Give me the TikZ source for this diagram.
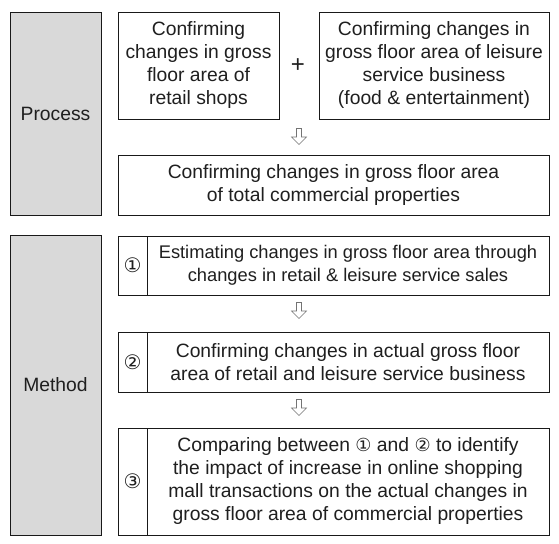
\documentclass[tikz,border=0pt]{standalone}
\usepackage{fontspec}
\setmainfont{Liberation Sans}
\newfontfamily\circfont{DejaVu Sans}
\begin{document}
\begin{tikzpicture}[x=1pt,y=-1pt,
  txt/.style={text=black!88, font=\fontsize{19.3}{23}\selectfont, align=center, inner sep=0pt},
  box/.style={txt, draw=black!90, line width=0.9pt},
  side/.style={box, fill=black!15},
  numcell/.style={box, font=\circfont\fontsize{20}{22}\selectfont},
  harrow/.pic={\draw[black!55, line width=0.6pt, fill=white]
     (-2.5,-8.5) -- (2.5,-8.5) -- (2.5,0) -- (7.5,0) -- (0,7.5) -- (-7.5,0) -- (-2.5,0) -- cycle;}
]
\useasboundingbox (0,0) rectangle (559,543);
\fill[white] (0,0) rectangle (559,543);
% Process section
\node[side, minimum width=91pt, minimum height=203pt] (process) at (55.5,113.5) {Process};
\node[box, minimum width=161pt, minimum height=107pt] (retail) at (198.5,65.5)
  {Confirming\\changes in gross\\floor area of\\retail shops};
\node[txt, font=\fontsize{24}{24}\selectfont] (plus) at (298,66) {+};
\node[box, minimum width=230pt, minimum height=107pt] (leisure) at (434,65.5)
  {Confirming changes in\\gross floor area of leisure\\service business\\(food \& entertainment)};
\node[box, minimum width=431pt, minimum height=60pt] (total) at (333.5,185)
  {Confirming changes in gross floor area\\of total commercial properties};
\pic at (299,137) {harrow};
% Method section
\node[side, minimum width=91pt, minimum height=300pt] (method) at (55.5,385) {Method};
\node[numcell, minimum width=29pt, minimum height=59pt] (n1) at (132.5,265.5) {①};
\node[box, minimum width=402pt, minimum height=59pt, font=\fontsize{18.3}{23}\selectfont] (m1) at (348,265.5)
  {Estimating changes in gross floor area through\\changes in retail \& leisure service sales};
\pic at (299,311) {harrow};
\node[numcell, minimum width=29pt, minimum height=60pt] (n2) at (132.5,362) {②};
\node[box, minimum width=402pt, minimum height=60pt] (m2) at (348,362)
  {Confirming changes in actual gross floor\\area of retail and leisure service business};
\pic at (299,408) {harrow};
\node[numcell, minimum width=29pt, minimum height=107pt] (n3) at (132.5,481.5) {③};
\node[box, minimum width=402pt, minimum height=107pt] (m3) at (348,481.5)
  {Comparing between {\circfont\fontsize{18}{20}\selectfont ①} and {\circfont\fontsize{18}{20}\selectfont ②} to identify\\the impact of increase in online shopping\\mall transactions on the actual changes in\\gross floor area of commercial properties};
\end{tikzpicture}
\end{document}
